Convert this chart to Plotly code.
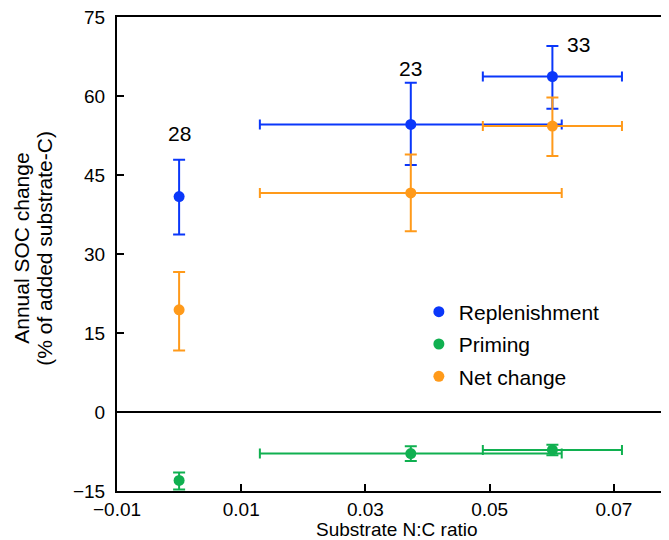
import plotly.graph_objects as go

# N:C ratio of the three substrate groups
x_ratio = [0.0, 0.0373, 0.0601]
x_err = [None, 0.0243, 0.0112]

# Replenishment
repl_y = [40.9, 54.6, 63.7]
repl_plus = [7.0, 7.9, 5.8]
repl_minus = [7.2, 7.7, 6.1]

# Priming
prim_y = [-13.0, -7.9, -7.2]
prim_plus = [1.5, 1.4, 1.0]
prim_minus = [1.7, 1.4, 1.0]

# Net change
net_y = [19.4, 41.6, 54.3]
net_plus = [7.2, 7.3, 5.4]
net_minus = [7.7, 7.3, 5.7]

# sample-size labels
n_labels = ["28", "23", "33"]
n_label_x = [0.0, 0.0373, 0.0643]
n_label_y = [52.8, 65.2, 69.8]

x_ticks = [-0.01, 0.01, 0.03, 0.05, 0.07]
y_ticks = [-15, 0, 15, 30, 45, 60, 75]

x_title = "Substrate N:C ratio"
y_title_lines = ["Annual SOC change", "(% of added substrate-C)"]

BLUE = "#0A37FA"
GREEN = "#10B050"
ORANGE = "#FF9A1A"
FONT = "Liberation Sans, Arial, Helvetica, sans-serif"

fig = go.Figure()

def add_series(name, y, plus, minus, color):
    fig.add_trace(go.Scatter(
        x=x_ratio, y=y, mode="markers", name=name, legendgroup=name,
        marker=dict(color=color, size=11),
        error_y=dict(type="data", array=plus, arrayminus=minus, symmetric=False,
                     color=color, thickness=2, width=6),
        error_x=dict(type="data", array=x_err, color=color, thickness=2, width=5),
    ))

add_series("Replenishment", repl_y, repl_plus, repl_minus, BLUE)
add_series("Priming", prim_y, prim_plus, prim_minus, GREEN)
add_series("Net change", net_y, net_plus, net_minus, ORANGE)

for t, xx, yy in zip(n_labels, n_label_x, n_label_y):
    fig.add_annotation(x=xx, y=yy, text=t, showarrow=False,
                       font=dict(size=21, color="black", family=FONT))

# axis titles as annotations for precise placement
fig.add_annotation(xref="paper", yref="paper", x=0.5, y=-0.082,
                   xanchor="center", yanchor="middle", text=x_title, showarrow=False,
                   borderpad=0, font=dict(size=19, color="black", family=FONT))
for line, xp in zip(y_title_lines, [-0.170, -0.129]):
    fig.add_annotation(xref="paper", yref="paper", x=xp, y=0.513,
                       xanchor="center", yanchor="middle", text=line, textangle=-90,
                       showarrow=False, font=dict(size=21, color="black", family=FONT))

fig.update_layout(
    width=669, height=540,
    margin=dict(l=109, r=1, t=9, b=57),
    paper_bgcolor="white", plot_bgcolor="white",
    font=dict(family=FONT, size=19, color="black"),
    showlegend=True,
    legend=dict(x=0.54, y=0.31, xanchor="left", yanchor="middle",
                bgcolor="rgba(0,0,0,0)", font=dict(size=21),
                itemwidth=30, tracegroupgap=2, traceorder="grouped"),
    xaxis=dict(range=[-0.01, 0.08], tickvals=x_ticks,
               ticktext=["\u22120.01", "0.01", "0.03", "0.05", "0.07"],
               showline=True, linecolor="black", linewidth=2, mirror=True,
               ticks="inside", ticklen=7, tickwidth=2, tickcolor="black",
               showgrid=False, zeroline=False, automargin=False,
               ticklabeloverflow="allow", ticklabelstandoff=0),
    yaxis=dict(range=[-15, 75], tickvals=y_ticks,
               ticktext=["\u221215", "0", "15", "30", "45", "60", "75"],
               showline=True, linecolor="black", linewidth=2, mirror=True,
               ticks="inside", ticklen=7, tickwidth=2, tickcolor="black",
               showgrid=False, zeroline=True, zerolinecolor="black", zerolinewidth=2,
               automargin=False, ticklabeloverflow="allow", ticklabelstandoff=6),
)

fig.write_html("out.html")
